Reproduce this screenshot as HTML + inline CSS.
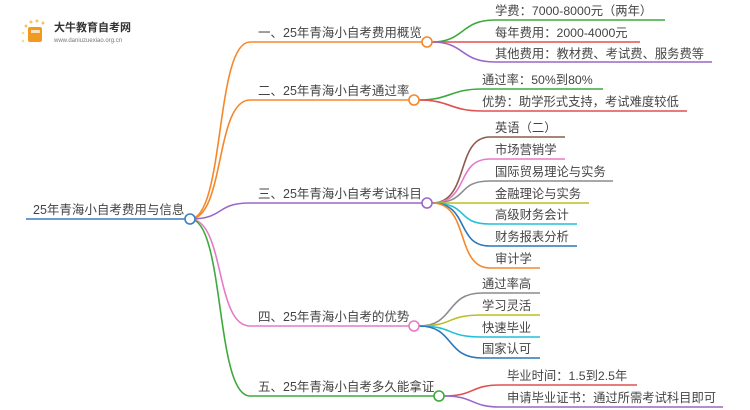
<!DOCTYPE html>
<html><head><meta charset="utf-8"><style>
html,body{margin:0;padding:0;background:#fff;width:750px;height:410px;overflow:hidden}
text{font-family:"Liberation Sans","Noto Sans CJK SC",sans-serif;fill:#444}
.b{font-size:12.5px}.l{font-size:12.3px}
path{fill:none;stroke-width:1.6}
</style></head><body>
<svg width="750" height="410" viewBox="0 0 750 410" xmlns="http://www.w3.org/2000/svg">
<g>
<circle cx="26" cy="26" r="1.5" fill="#f7c65a"/><circle cx="31" cy="22" r="1.5" fill="#f7c65a"/><circle cx="37" cy="21" r="1.5" fill="#f7c65a"/><circle cx="43" cy="23" r="1.5" fill="#f7c65a"/><circle cx="23" cy="33" r="1.3" fill="#f9d98a"/><circle cx="23" cy="41" r="1.3" fill="#f9d98a"/>
<rect x="28" y="27" width="14" height="15" rx="2" fill="#f29a1f"/>
<rect x="31" y="30" width="9" height="3" fill="#fff" opacity="0.7"/>
<text x="54" y="31" style="font-size:11px;fill:#333;font-weight:bold">大牛教育自考网</text>
<text x="54" y="42" style="font-size:6px;fill:#777">www.daniuzuexiao.org.cn</text>
</g>
<text class="b" x="33" y="214">25年青海小自考费用与信息</text>
<path d="M26 219H185" stroke="#3a7fc1"/>
<path d="M190 219C225 219 215 42 250 42H422" stroke="#f5872a"/>
<path d="M190 219C225 219 215 100 250 100H409" stroke="#f5872a"/>
<path d="M190 219C225 219 215 203 250 203H422" stroke="#9b67c9"/>
<path d="M190 219C225 219 215 326 250 326H409" stroke="#e77ac6"/>
<path d="M190 219C225 219 215 396 250 396H434" stroke="#3daa3d"/>
<text class="b" x="258" y="37">一、25年青海小自考费用概览</text>
<text class="b" x="258" y="95">二、25年青海小自考通过率</text>
<text class="b" x="258" y="198">三、25年青海小自考考试科目</text>
<text class="b" x="258" y="321">四、25年青海小自考的优势</text>
<text class="b" x="258" y="391">五、25年青海小自考多久能拿证</text>
<path d="M432 42C465 42 460 20 495 20H665" stroke="#3daa3d"/>
<path d="M432 42H640" stroke="#e0504f"/>
<path d="M432 42C465 42 460 62 495 62H712" stroke="#9b67c9"/>
<text class="l" x="495" y="15">学费：7000-8000元（两年）</text>
<text class="l" x="495" y="37">每年费用：2000-4000元</text>
<text class="l" x="495" y="58">其他费用：教材费、考试费、服务费等</text>
<path d="M419 100C450 100 450 89 482 89H603" stroke="#3daa3d"/>
<path d="M419 100C450 100 450 111 482 111H687" stroke="#e0504f"/>
<text class="l" x="482" y="84">通过率：50%到80%</text>
<text class="l" x="482" y="106">优势：助学形式支持，考试难度较低</text>
<path d="M432 203C470 203 455 137 490 137H565" stroke="#8d5b4c"/>
<path d="M432 203C470 203 455 159 490 159H565" stroke="#e77ac6"/>
<path d="M432 203C470 203 455 181 490 181H613" stroke="#8c8c8c"/>
<path d="M432 203H589" stroke="#bcbd22"/>
<path d="M432 203C470 203 455 224 490 224H577" stroke="#22c0d8"/>
<path d="M432 203C470 203 455 246 490 246H577" stroke="#2a77b9"/>
<path d="M432 203C470 203 455 268 490 268H540" stroke="#f5872a"/>
<text class="l" x="495" y="132">英语（二）</text>
<text class="l" x="495" y="154">市场营销学</text>
<text class="l" x="495" y="176">国际贸易理论与实务</text>
<text class="l" x="495" y="198">金融理论与实务</text>
<text class="l" x="495" y="219">高级财务会计</text>
<text class="l" x="495" y="241">财务报表分析</text>
<text class="l" x="495" y="263">审计学</text>
<path d="M419 326C455 326 445 293 482 293H540" stroke="#8c8c8c"/>
<path d="M419 326C455 326 445 315 482 315H540" stroke="#bcbd22"/>
<path d="M419 326C455 326 445 337 482 337H540" stroke="#22c0d8"/>
<path d="M419 326C455 326 445 358 482 358H540" stroke="#2a77b9"/>
<text class="l" x="482" y="288">通过率高</text>
<text class="l" x="482" y="310">学习灵活</text>
<text class="l" x="482" y="332">快速毕业</text>
<text class="l" x="482" y="353">国家认可</text>
<path d="M444 396C475 396 470 385 500 385H637" stroke="#e0504f"/>
<path d="M444 396C475 396 470 407 500 407H723" stroke="#9b67c9"/>
<text class="l" x="507" y="380">毕业时间：1.5到2.5年</text>
<text class="l" x="507" y="402">申请毕业证书：通过所需考试科目即可</text>
<circle cx="190" cy="219" r="5" fill="#fff" stroke="#3a7fc1" stroke-width="1.6"/>
<circle cx="427" cy="42" r="5" fill="#fff" stroke="#f5872a" stroke-width="1.6"/>
<circle cx="414" cy="100" r="5" fill="#fff" stroke="#f5872a" stroke-width="1.6"/>
<circle cx="427" cy="203" r="5" fill="#fff" stroke="#9b67c9" stroke-width="1.6"/>
<circle cx="414" cy="326" r="5" fill="#fff" stroke="#e77ac6" stroke-width="1.6"/>
<circle cx="439" cy="396" r="5" fill="#fff" stroke="#3daa3d" stroke-width="1.6"/>
</svg>
</body></html>
